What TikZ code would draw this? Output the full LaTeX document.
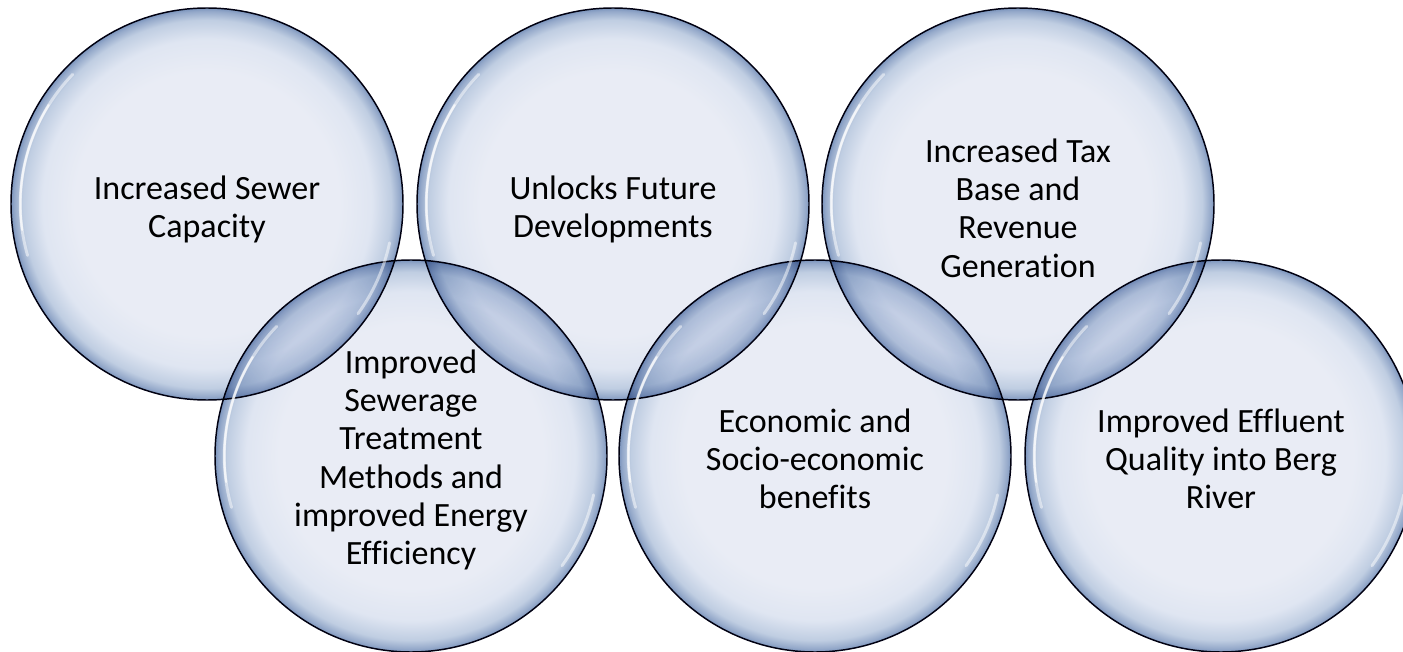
\documentclass[tikz,border=0pt]{standalone}
\usepackage{fontspec}
\setmainfont{Carlito}[RawFeature={-liga;-clig;-dlig}]
\pgfdeclareradialshading{bubbleshade}{\pgfpoint{0bp}{0bp}}{%
rgb(0bp)=(0.912,0.925,0.960);
rgb(17bp)=(0.912,0.925,0.960);
rgb(21bp)=(0.875,0.900,0.948);
rgb(23.5bp)=(0.750,0.805,0.885);
rgb(24.6bp)=(0.580,0.660,0.790);
rgb(25bp)=(0.480,0.580,0.740);
rgb(50bp)=(0.480,0.580,0.740)}
\tikzset{
  bubble/.style={circle, minimum size=294pt, inner sep=0pt, shading=bubbleshade,
    draw=black!92!blue, line width=1.1pt},
  bubbletext/.style={align=center, text=black, inner sep=0pt,
    font=\fontsize{25.5}{28.7}\selectfont},
  hl/.style={draw=white, line width=2.2pt, line cap=round},
}
\begin{document}
\begin{tikzpicture}[x=0.75pt,y=-0.75pt]
\useasboundingbox (0,0) rectangle (1403,652);
\begin{scope}[blend mode=multiply]
\node[bubble] (c1) at (207,204) {};
\node[bubble] (c2) at (613,204) {};
\node[bubble] (c3) at (1018,204) {};
\node[bubble] (c4) at (411,456) {};
\node[bubble] (c5) at (815,456) {};
\node[bubble] (c6) at (1221,456) {};
\end{scope}
\foreach \c in {c1,c2,c3,c4,c5,c6}{
  \draw[hl, opacity=0.5] (\c.center) ++(136:140pt) arc[start angle=136, end angle=196, radius=140pt];
  \draw[hl, opacity=0.7, line width=1.6pt] (\c.center) ++(148:140pt) arc[start angle=148, end angle=188, radius=140pt];
  \draw[hl, opacity=0.5] (\c.center) ++(-12:140pt) arc[start angle=-12, end angle=-36, radius=140pt];
}
\node[bubbletext] (t1) at ([yshift=-4pt]c1.center) {Increased Sewer\\Capacity};
\node[bubbletext] (t2) at ([yshift=-4pt]c2.center) {Unlocks Future\\Developments};
\node[bubbletext] (t3) at ([yshift=-3pt]c3.center) {Increased Tax\\Base and\\Revenue\\Generation};
\node[bubbletext] (t4) at ([yshift=-3pt]c4.center) {Improved\\Sewerage\\Treatment\\Methods and\\improved Energy\\Efficiency};
\node[bubbletext] (t5) at ([yshift=-2pt]c5.center) {Economic and\\Socio-economic\\benefits};
\node[bubbletext] (t6) at ([yshift=-2pt]c6.center) {Improved Effluent\\Quality into Berg\\River};
\end{tikzpicture}
\end{document}
